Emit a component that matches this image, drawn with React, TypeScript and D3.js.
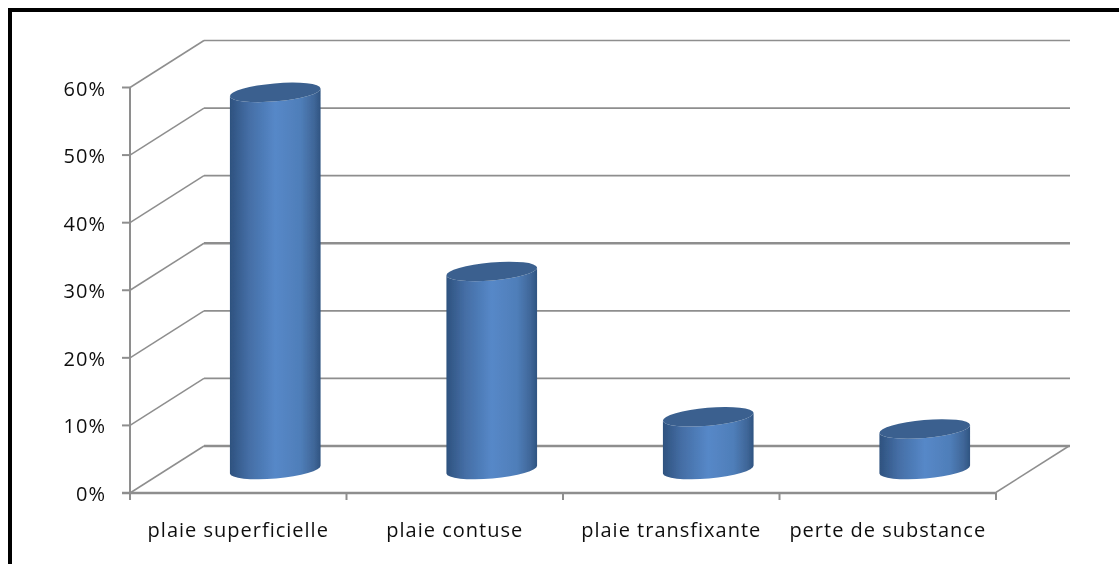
import React from "react";
import * as d3 from "d3";

const categories = ["plaie superficielle", "plaie contuse", "plaie transfixante", "perte de substance"];
const values = [55.8, 29.3, 7.8, 6];
const ticks = [0, 10, 20, 30, 40, 50, 60];

const W = 1119, H = 564;
const x = d3.scaleBand<string>().domain(categories).range([130, 996]);
const y = d3.scaleLinear().domain([0, 60]).range([493, 87.5]);
const DX = 74, DY = -47;
const RX = 45.5, RY = 9, TILT = -5;
const FONT = "'Open Sans','DejaVu Sans',sans-serif";
const GRID = "#8e8e8e";

export default function App() {
  const ends = [130, ...categories.map((c) => (x(c) as number) + x.bandwidth())];
  return (
    <svg width={W} height={H} style={{ position: "absolute", left: 0, top: 0, background: "#fff" }}>
      <defs>
        <linearGradient id="cyl" x1="0" x2="1" y1="0" y2="0">
          <stop offset="0" stopColor="#2e527f" />
          <stop offset="0.2" stopColor="#446da4" />
          <stop offset="0.5" stopColor="#5688c8" />
          <stop offset="0.78" stopColor="#4f7eb9" />
          <stop offset="0.93" stopColor="#3f6698" />
          <stop offset="1" stopColor="#2f5481" />
        </linearGradient>
        <filter id="soft" x="0" y="0" width="100%" height="100%" filterUnits="objectBoundingBox">
          <feGaussianBlur stdDeviation="0.4" />
        </filter>
      </defs>
      <rect x={8} y={8} width={4} height={H - 8} fill="#000" />
      <rect x={8} y={8} width={W - 8} height={4} fill="#000" />
      <g filter="url(#soft)">
        <rect x={12} y={12} width={W - 12} height={H - 12} fill="#fff" />
        {ticks.map((t) => (
          <g key={t}>
            <line x1={130} y1={y(t)} x2={130 + DX} y2={y(t) + DY} stroke={GRID} strokeWidth={1.5} />
            <line
              x1={130 + DX}
              y1={y(t) + DY}
              x2={995 + DX + 1}
              y2={y(t) + DY}
              stroke={GRID}
              strokeWidth={t === 0 || t === 30 ? 2.6 : 1.7}
            />
            <line x1={122} x2={130} y1={y(t)} y2={y(t)} stroke={GRID} strokeWidth={2} />
            <text x={106} y={y(t) + 8} textAnchor="end" fontFamily={FONT} fontSize={20} fill="#111" style={{ letterSpacing: "1px" }}>
              {t}%
            </text>
          </g>
        ))}
        <line x1={130} x2={130} y1={y(60)} y2={y(0)} stroke={GRID} strokeWidth={2} />
        <line x1={122} x2={995} y1={y(0)} y2={y(0)} stroke={GRID} strokeWidth={2.5} />
        <line x1={995} x2={995 + DX} y1={y(0)} y2={y(0) + DY} stroke={GRID} strokeWidth={1.5} />
        {ends.map((e) => (
          <line key={e} x1={e} x2={e} y1={y(0)} y2={y(0) + 7} stroke={GRID} strokeWidth={2} />
        ))}
        {categories.map((c, i) => {
          const cx = (x(c) as number) + x.bandwidth() / 2 + DX / 2;
          const base = y(0) + DY / 2;
          const top = y(values[i]) + DY / 2;
          const a = (TILT * Math.PI) / 180;
          const ex = RX * Math.cos(a), ey = RX * Math.sin(a);
          const body =
            `M${cx - ex},${top - ey} L${cx - ex},${base - ey} ` +
            `A${RX},${RY} ${TILT} 0 0 ${cx + ex},${base + ey} ` +
            `L${cx + ex},${top + ey} ` +
            `A${RX},${RY} ${TILT} 0 1 ${cx - ex},${top - ey} Z`;
          return (
            <g key={c}>
              <path d={body} fill="url(#cyl)" />
              <ellipse cx={cx} cy={top} rx={RX} ry={RY} transform={`rotate(${TILT} ${cx} ${top})`} fill="#3b618f" />
              <text
                x={(x(c) as number) + x.bandwidth() / 2}
                y={537}
                textAnchor="middle"
                fontFamily={FONT}
                fontSize={20}
                fill="#111"
                style={{ letterSpacing: "1px" }}
              >
                {c}
              </text>
            </g>
          );
        })}
      </g>
    </svg>
  );
}
